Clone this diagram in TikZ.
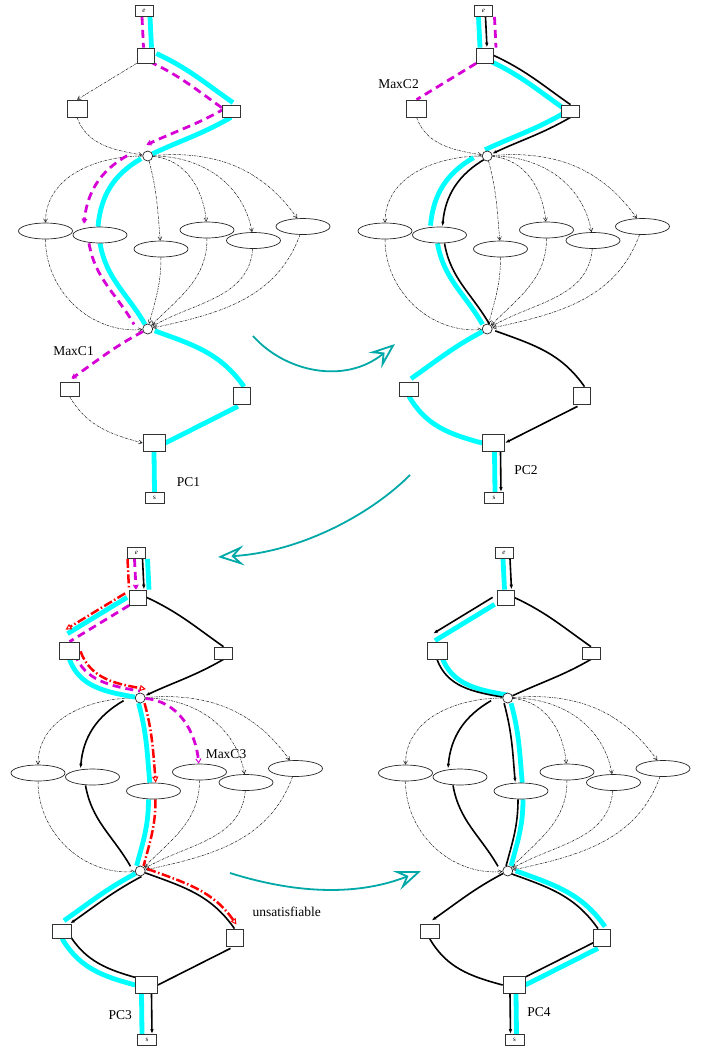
\documentclass[tikz,border=0pt]{standalone}
\usepackage{fontspec}
\setmainfont{Liberation Serif}
\usetikzlibrary{arrows.meta,shapes.geometric}
\pgfdeclarelayer{edges}
\pgfsetlayers{edges,main}

\definecolor{hlcyan}{RGB}{0,255,255}
\definecolor{hlmag}{RGB}{214,0,214}
\definecolor{hlred}{RGB}{255,0,0}
\definecolor{flowteal}{RGB}{0,168,168}

\tikzset{
  box/.style={draw=black!80, line width=0.7pt, fill=white, inner sep=0pt},
  junc/.style={circle, draw=black!85, line width=0.7pt, fill=white, minimum size=10pt, inner sep=0pt},
  oval/.style={ellipse, draw=black!85, line width=0.7pt, fill=white, minimum width=54pt, minimum height=16pt, inner sep=0pt},
  tiny/.style={font=\fontsize{7}{8}\selectfont},
  thinedge/.style={draw=black!90, line width=0.5pt, dash pattern=on 2.5pt off 1pt on 0.6pt off 1pt,
    -{Straight Barb[length=3.5pt,width=4pt]}},
  cyanhl/.style={draw=hlcyan, line width=4.8pt},
  blk/.style={draw=black, line width=1.6pt},
  blkarr/.style={blk, -{Latex[length=5pt,width=3.5pt]}},
  maghl/.style={draw=hlmag, line width=2.8pt, dash pattern=on 8pt off 5pt},
  magarr/.style={maghl, -{Straight Barb[length=4pt,width=5pt,line width=1pt]}},
  redhl/.style={draw=hlred, line width=2.5pt, dash pattern=on 9pt off 2.5pt on 1.5pt off 2.5pt},
  redarr/.style={redhl, -{Triangle[open,length=6pt,width=6pt,line width=1pt]}},
  sh/.style={transform canvas={shift={#1}}},
  flow/.style={draw=flowteal, line width=1.8pt, -{Stealth[open,length=26pt,width=20pt,inset=10pt]}},
  lbl/.style={font=\fontsize{13.5}{15}\selectfont, inner sep=0pt},
}

% the nodes of one copy of the graph; #1 is the name prefix
\newcommand\graphnodes[1]{%
  \node[box,tiny,minimum width=18pt,minimum height=11pt] (#1e) at (144,-11) {\textit{e}};
  \node[box,minimum width=17pt,minimum height=15pt] (#1A) at (145.5,-55.5) {};
  \node[box,minimum width=20pt,minimum height=17pt] (#1B) at (77,-108.5) {};
  \node[box,minimum width=18pt,minimum height=12pt] (#1C) at (231,-111) {};
  \node[junc] (#1X) at (147.7,-156) {};
  \node[oval] (#1P) at (45.5,-231) {};
  \node[oval] (#1Q) at (100,-235) {};
  \node[oval] (#1R) at (161,-249) {};
  \node[oval] (#1S) at (207,-230) {};
  \node[oval] (#1T) at (253.5,-240.5) {};
  \node[oval] (#1U) at (303,-226.5) {};
  \node[junc] (#1Y) at (147.7,-329) {};
  \node[box,minimum width=19pt,minimum height=14pt] (#1D) at (69.5,-389) {};
  \node[box,minimum width=17pt,minimum height=17pt] (#1F) at (242,-395.5) {};
  \node[box,minimum width=22pt,minimum height=17pt] (#1G) at (154,-443) {};
  \node[box,tiny,minimum width=19pt,minimum height=11pt] (#1s) at (154.5,-498) {s};
}

% the edges of the graph; #1 is the name prefix, #2 the drawing style
\newcommand\edgeeA[2]{\draw[#2] (#1e.south) -- (#1A.north);}
\newcommand\edgeAB[2]{\draw[#2] (#1A.south west) -- (#1B.north);}
\newcommand\edgeAC[2]{\draw[#2] (#1A.east) to[out=-25,in=145] (#1C.north);}
\newcommand\edgeBX[2]{\draw[#2] (#1B.south) to[out=-70,in=170] (#1X);}
\newcommand\edgeCX[2]{\draw[#2] (#1C.south) to[out=-150,in=25] (#1X);}
\newcommand\edgeXP[2]{\draw[#2] (#1X) to[out=180,in=90] (#1P);}
\newcommand\edgeXQ[2]{\draw[#2] (#1X) to[out=210,in=85] (#1Q.north);}
\newcommand\edgeXR[2]{\draw[#2] (#1X) to[out=-75,in=95] (#1R);}
\newcommand\edgeXS[2]{\draw[#2] (#1X) to[out=-5,in=95] (#1S);}
\newcommand\edgeXT[2]{\draw[#2] (#1X) to[out=0,in=100] (#1T);}
\newcommand\edgeXU[2]{\draw[#2] (#1X) to[out=5,in=125] (#1U);}
\newcommand\edgePY[2]{\draw[#2] (#1P) to[out=-90,in=185] (#1Y);}
\newcommand\edgeQY[2]{\draw[#2] (#1Q.south) to[out=-80,in=120] (#1Y);}
\newcommand\edgeRY[2]{\draw[#2] (#1R) to[out=-90,in=75] (#1Y);}
\newcommand\edgeSY[2]{\draw[#2] (#1S) to[out=-90,in=45] (#1Y);}
\newcommand\edgeTY[2]{\draw[#2] (#1T) to[out=-95,in=30] (#1Y);}
\newcommand\edgeUY[2]{\draw[#2] (#1U) to[out=-110,in=12] (#1Y);}
\newcommand\edgeYD[2]{\draw[#2] (#1Y) to[out=-152,in=35] ([xshift=2pt,yshift=3pt]#1D.north);}
\newcommand\edgeYF[2]{\draw[#2] (#1Y) to[out=-20,in=125] (#1F.north);}
\newcommand\edgeDG[2]{\draw[#2] (#1D.south) to[out=-60,in=165] (#1G.west);}
\newcommand\edgeFG[2]{\draw[#2] ([xshift=-4pt,yshift=-2pt]#1F.south) -- (#1G.east);}
\newcommand\edgeGs[2]{\draw[#2] (#1G.south) -- (#1s.north);}

\begin{document}
\begin{tikzpicture}[x=1pt,y=1pt]
\path[use as bounding box] (0,0) rectangle (704,-1050);

\begin{scope}\graphnodes{p1-}\end{scope}
\begin{scope}[shift={(339.5,0)}]\graphnodes{p2-}\end{scope}
\begin{scope}[shift={(-7.5,-542)}]\graphnodes{p3-}\end{scope}
\begin{scope}[shift={(360,-542)}]\graphnodes{p4-}\end{scope}

\begin{pgfonlayer}{edges}
% ---- first copy
\edgeAB{p1-}{thinedge}\edgeBX{p1-}{thinedge}
\edgeXP{p1-}{thinedge}\edgeXR{p1-}{thinedge}\edgeXS{p1-}{thinedge}
\edgeXT{p1-}{thinedge}\edgeXU{p1-}{thinedge}
\edgePY{p1-}{thinedge}\edgeRY{p1-}{thinedge}\edgeSY{p1-}{thinedge}
\edgeTY{p1-}{thinedge}\edgeUY{p1-}{thinedge}\edgeDG{p1-}{thinedge}
\edgeeA{p1-}{cyanhl,sh={(6,0)}}
\edgeAC{p1-}{cyanhl,sh={(2,2)}}
\edgeCX{p1-}{cyanhl}
\edgeXQ{p1-}{cyanhl,sh={(-2,0)}}
\edgeQY{p1-}{cyanhl}
\edgeYF{p1-}{cyanhl,sh={(2,0)}}
\edgeFG{p1-}{cyanhl}
\edgeGs{p1-}{cyanhl}
\edgeeA{p1-}{maghl,sh={(-2,0)}}
\edgeAC{p1-}{maghl,sh={(-5,-6)}}
\edgeCX{p1-}{magarr,sh={(-6,9)}}
\edgeXQ{p1-}{magarr,sh={(-16,3)}}
\edgeQY{p1-}{maghl,sh={(-11,0)}}
\edgeYD{p1-}{magarr}

% ---- second copy
\edgeBX{p2-}{thinedge}
\edgeXP{p2-}{thinedge}\edgeXR{p2-}{thinedge}\edgeXS{p2-}{thinedge}
\edgeXT{p2-}{thinedge}\edgeXU{p2-}{thinedge}
\edgePY{p2-}{thinedge}\edgeRY{p2-}{thinedge}\edgeSY{p2-}{thinedge}
\edgeTY{p2-}{thinedge}\edgeUY{p2-}{thinedge}
\edgeeA{p2-}{cyanhl,sh={(-5,0)}}
\edgeAC{p2-}{cyanhl,sh={(-5,-5)}}
\edgeCX{p2-}{cyanhl,sh={(-7,4)}}
\edgeXQ{p2-}{cyanhl,sh={(-9,1)}}
\edgeQY{p2-}{cyanhl,sh={(-2,0)}}
\edgeYD{p2-}{cyanhl}
\edgeDG{p2-}{cyanhl}
\edgeGs{p2-}{cyanhl,sh={(1,0)}}
\edgeeA{p2-}{blkarr,sh={(2,0)}}
\edgeAC{p2-}{blk}
\edgeCX{p2-}{blkarr}
\edgeXQ{p2-}{blkarr,sh={(3,0)}}
\edgeQY{p2-}{blk,sh={(5,0)}}
\edgeYF{p2-}{blk,sh={(3,0)}}
\edgeFG{p2-}{blkarr}
\edgeGs{p2-}{blkarr,sh={(7,0)}}
\edgeeA{p2-}{maghl,sh={(11,0)}}
\edgeAB{p2-}{maghl}

% ---- third copy
\edgeXP{p3-}{thinedge}\edgeXT{p3-}{thinedge}\edgeXU{p3-}{thinedge}
\edgePY{p3-}{thinedge}\edgeSY{p3-}{thinedge}
\edgeTY{p3-}{thinedge}\edgeUY{p3-}{thinedge}
\edgeeA{p3-}{cyanhl,sh={(11,0)}}
\edgeAB{p3-}{cyanhl,sh={(-2,8)}}
\edgeBX{p3-}{cyanhl}
\edgeXR{p3-}{cyanhl,sh={(-3,0)}}
\edgeRY{p3-}{cyanhl,sh={(-5,0)}}
\edgeYD{p3-}{cyanhl}
\edgeDG{p3-}{cyanhl}
\edgeGs{p3-}{cyanhl,sh={(-5,0)}}
\edgeeA{p3-}{blkarr,sh={(6,0)}}
\edgeAC{p3-}{blk}
\edgeCX{p3-}{blkarr}
\edgeXQ{p3-}{blkarr,sh={(-12,0)}}
\edgeQY{p3-}{blk,sh={(-7,0)}}
\edgeYD{p3-}{blkarr,sh={(6,-3)}}
\edgeYF{p3-}{blk}
\edgeDG{p3-}{blk,sh={(6,6)}}
\edgeFG{p3-}{blk}
\edgeGs{p3-}{blkarr,sh={(5,0)}}
\edgeeA{p3-}{magarr,sh={(-2,0)}}
\edgeAB{p3-}{maghl}
\edgeBX{p3-}{maghl,sh={(5,6)}}
\edgeXS{p3-}{magarr}
\edgeeA{p3-}{redhl,sh={(-9,0)}}
\edgeAB{p3-}{redarr,sh={(-4,12)}}
\edgeBX{p3-}{redarr,sh={(11,8)}}
\edgeXR{p3-}{redarr,sh={(3,0)}}
\edgeRY{p3-}{redhl,sh={(2,0)}}
\edgeYF{p3-}{redarr,sh={(2,4)}}

% ---- fourth copy
\edgeXP{p4-}{thinedge}\edgeXS{p4-}{thinedge}\edgeXT{p4-}{thinedge}\edgeXU{p4-}{thinedge}
\edgePY{p4-}{thinedge}\edgeSY{p4-}{thinedge}
\edgeTY{p4-}{thinedge}\edgeUY{p4-}{thinedge}
\edgeeA{p4-}{cyanhl,sh={(-1,0)}}
\edgeAB{p4-}{cyanhl,sh={(-2,1)}}
\edgeBX{p4-}{cyanhl,sh={(5,2)}}
\edgeXR{p4-}{cyanhl,sh={(2,0)}}
\edgeRY{p4-}{cyanhl,sh={(2,0)}}
\edgeYF{p4-}{cyanhl,sh={(3,2)}}
\edgeFG{p4-}{cyanhl}
\edgeGs{p4-}{cyanhl,sh={(2,0)}}
\edgeeA{p4-}{blkarr,sh={(6,0)}}
\edgeAB{p4-}{blkarr,sh={(-4,8)}}
\edgeAC{p4-}{blk}
\edgeBX{p4-}{blk}
\edgeCX{p4-}{blk}
\edgeXQ{p4-}{blkarr,sh={(-12,0)}}
\edgeXR{p4-}{blkarr,sh={(-5,0)}}
\edgeQY{p4-}{blk,sh={(-7,0)}}
\edgeRY{p4-}{blk,sh={(-3,0)}}
\edgeYD{p4-}{blkarr}
\edgeYF{p4-}{blk,sh={(-4,0)}}
\edgeDG{p4-}{blk}
\edgeFG{p4-}{blk,sh={(-4,6)}}
\edgeGs{p4-}{blkarr,sh={(-4,0)}}
\end{pgfonlayer}

% ---- labels
\node[lbl] (maxc1) at (73.5,-351.5) {MaxC1};
\node[lbl] (pc1) at (188.5,-482.5) {PC1};
\node[lbl] (maxc2) at (398.5,-84) {MaxC2};
\node[lbl] (pc2) at (526,-470.5) {PC2};
\node[lbl] (maxc3) at (226,-754.5) {MaxC3};
\node[lbl] (unsat) at (286.7,-911.5) {unsatisfiable};
\node[lbl] (pc3) at (120.3,-1015) {PC3};
\node[lbl] (pc4) at (539,-1012) {PC4};

% ---- transitions between the stages
\coordinate (f1a) at (253,-336); \coordinate (f1b) at (395,-344);
\coordinate (f2a) at (410,-475); \coordinate (f2b) at (218,-557);
\coordinate (f3a) at (230,-873); \coordinate (f3b) at (421,-871);
\draw[flow] (f1a) .. controls (285,-372) and (345,-385) .. (f1b);
\draw[flow] (f2a) .. controls (370,-515) and (300,-552) .. (f2b);
\draw[flow] (f3a) .. controls (300,-895) and (360,-895) .. (f3b);
\end{tikzpicture}
\end{document}
